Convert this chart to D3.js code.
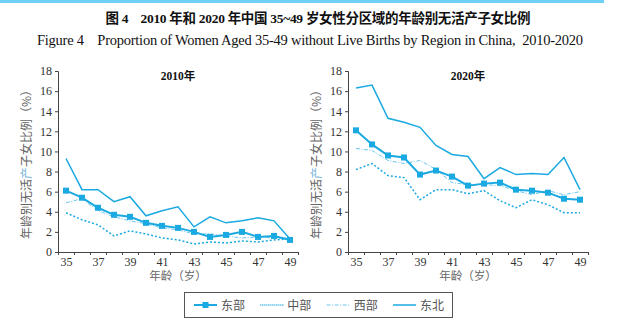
<!DOCTYPE html>
<html>
<head>
<meta charset="utf-8">
<script src="https://cdn.jsdelivr.net/npm/d3@7"></script>
<style>
  body { margin: 0; background: #fff; }
  svg { display: block; }
</style>
</head>
<body>
<svg id="viz" width="636" height="327"></svg>
<script>
// data (percent of women without live births)
var ages = [35, 36, 37, 38, 39, 40, 41, 42, 43, 44, 45, 46, 47, 48, 49];
var regions = ['东部', '中部', '西部', '东北'];
var yTicks = [0, 2, 4, 6, 8, 10, 12, 14, 16, 18];
var xLabels = [35, 37, 39, 41, 43, 45, 47, 49];

var east2010      = [6.1, 5.4, 4.4, 3.7, 3.5, 2.9, 2.6, 2.4, 2.0, 1.5, 1.7, 2.0, 1.5, 1.6, 1.2];
var central2010   = [3.9, 3.2, 2.7, 1.6, 2.1, 1.8, 1.4, 1.2, 0.8, 1.0, 0.9, 1.1, 1.0, 1.2, 1.3];
var west2010      = [4.9, 5.3, 4.1, 3.5, 3.1, 2.8, 2.4, 2.2, 1.8, 1.8, 1.6, 1.4, 1.5, 1.4, 1.4];
var northeast2010 = [9.3, 6.2, 6.2, 5.0, 5.5, 3.6, 4.1, 4.5, 2.5, 3.5, 2.9, 3.1, 3.4, 3.1, 1.3];

var east2020      = [12.1, 10.7, 9.6, 9.4, 7.7, 8.1, 7.5, 6.6, 6.8, 6.9, 6.2, 6.1, 5.9, 5.3, 5.2];
var central2020   = [8.2, 8.8, 7.6, 7.4, 5.2, 6.2, 6.2, 5.8, 6.1, 5.1, 4.4, 5.2, 4.7, 3.9, 3.9];
var west2020      = [10.3, 10.1, 9.1, 8.8, 9.1, 8.2, 6.9, 6.7, 6.7, 6.6, 6.1, 5.7, 6.1, 5.7, 6.0];
var northeast2020 = [16.3, 16.6, 13.3, 12.9, 12.4, 10.6, 9.7, 9.5, 7.3, 8.4, 7.7, 7.8, 7.7, 9.4, 6.2];

var blue = '#1ba9e1';
var lightBlue = '#6cc8ef';
var axisColor = '#444';
var textColor = '#333';
var serif = '"Liberation Serif", "Times New Roman", serif';
var cjk = '"Noto Sans CJK SC", sans-serif';
var sp = '\u00a0';

// line styles per region
var styles = {
  '东部': { color: blue, width: 2, dash: null, marker: true },
  '中部': { color: blue, width: 1.5, dash: '2,2', marker: false },
  '西部': { color: lightBlue, width: 1, dash: '4,1.5,1,1.5', marker: false },
  '东北': { color: blue, width: 1.5, dash: null, marker: false }
};

var svg = d3.select('#viz');

// top strip
svg.append('rect')
  .attr('x', 0).attr('y', 0)
  .attr('width', 604).attr('height', 3)
  .style('fill', '#6fd0f5');

// titles
svg.append('text')
  .attr('x', 318).attr('y', 23)
  .attr('text-anchor', 'middle')
  .attr('textLength', 425)
  .style('font-family', serif + ',' + cjk)
  .style('font-weight', 'bold')
  .style('font-size', '13.5px')
  .style('fill', '#111')
  .text('图' + sp + '4' + sp + sp + sp + sp + '2010' + sp + '年和' + sp + '2020' + sp + '年中国' + sp + '35~49' + sp + '岁女性分区域的年龄别无活产子女比例');

svg.append('text')
  .attr('x', 310).attr('y', 45)
  .attr('text-anchor', 'middle')
  .attr('textLength', 546)
  .style('font-family', serif)
  .style('font-size', '14.5px')
  .style('fill', '#111')
  .text('Figure 4' + sp + sp + sp + sp + 'Proportion of Women Aged 35-49 without Live Births by Region in China,' + sp + sp + '2010-2020');

function drawPanel(left, title, seriesList) {
  var top = 71, bottom = 252, width = 240;
  var x = d3.scaleLinear().domain([34.5, 49.5]).range([left, left + width]);
  var y = d3.scaleLinear().domain([0, 18]).range([bottom, top]);

  var g = svg.append('g');

  // y axis
  var yAxis = g.append('g')
    .attr('transform', 'translate(' + left + ',0)')
    .call(d3.axisLeft(y).tickValues(yTicks).tickSize(3).tickPadding(3));
  // x axis: ticks between categories, labels on odd ages
  var xAxis = g.append('g')
    .attr('transform', 'translate(0,' + bottom + ')')
    .call(d3.axisBottom(x).tickValues(d3.range(34.5, 50, 1)).tickSize(3).tickFormat(''));
  var xLab = g.append('g')
    .attr('transform', 'translate(0,' + bottom + ')')
    .call(d3.axisBottom(x).tickValues(xLabels).tickSize(0).tickPadding(5));
  xLab.select('.domain').remove();

  [yAxis, xAxis, xLab].forEach(function(a) {
    a.selectAll('.domain, line').style('stroke', axisColor).style('stroke-width', 1);
    a.selectAll('text')
      .style('font-family', serif)
      .style('font-size', '12px')
      .style('fill', textColor);
  });

  // panel title
  g.append('text')
    .attr('x', left + 120).attr('y', 80)
    .attr('text-anchor', 'middle')
    .style('font-family', serif + ',' + cjk)
    .style('font-weight', 'bold')
    .style('font-size', '11.5px')
    .style('fill', '#111')
    .text(title);

  // axis titles
  g.append('text')
    .attr('x', left + 120).attr('y', 280)
    .attr('text-anchor', 'middle')
    .style('font-family', cjk)
    .style('font-size', '11.5px')
    .style('fill', '#666')
    .text('年龄（岁）');

  var yt = g.append('text')
    .attr('transform', 'translate(' + (left - 27) + ',' + ((top + bottom) / 2) + ') rotate(-90)')
    .attr('text-anchor', 'middle')
    .style('font-family', cjk)
    .style('font-size', '12px')
    .style('fill', '#666');
  yt.append('tspan').text('年龄别无活');
  yt.append('tspan').style('fill', '#7fb9db').text('产');
  yt.append('tspan').text('子女比例（%）');

  var line = d3.line()
    .x(function(d, i) { return x(ages[i]); })
    .y(function(d) { return y(d); });

  // draw back-to-front: west, central, northeast, east
  [2, 1, 3, 0].forEach(function(k) {
    var st = styles[regions[k]];
    g.append('path')
      .datum(seriesList[k])
      .attr('d', line)
      .style('fill', 'none')
      .style('stroke', st.color)
      .style('stroke-width', st.width)
      .style('stroke-dasharray', st.dash);
    if (st.marker) {
      g.selectAll('rect.m' + k)
        .data(seriesList[k])
        .enter()
        .append('rect')
        .attr('class', 'm' + k)
        .attr('x', function(d, i) { return x(ages[i]) - 3; })
        .attr('y', function(d) { return y(d) - 3; })
        .attr('width', 6).attr('height', 6)
        .style('fill', st.color);
    }
  });
}

drawPanel(58, '2010年', [east2010, central2010, west2010, northeast2010]);
drawPanel(348, '2020年', [east2020, central2020, west2020, northeast2020]);

// legend
var legend = svg.append('g');
legend.append('rect')
  .attr('x', 184.5).attr('y', 292.5)
  .attr('width', 268).attr('height', 25)
  .style('fill', 'none')
  .style('stroke', '#555')
  .style('stroke-width', 1);

var legendX = d3.scalePoint().domain(regions).range([194, 393]);
regions.forEach(function(r) {
  var st = styles[r];
  var lx = legendX(r);
  legend.append('line')
    .attr('x1', lx).attr('x2', lx + 23)
    .attr('y1', 305).attr('y2', 305)
    .style('stroke', st.color)
    .style('stroke-width', st.width)
    .style('stroke-dasharray', r === '中部' ? '1,1' : st.dash);
  if (st.marker) {
    legend.append('rect')
      .attr('x', lx + 8.5).attr('y', 302)
      .attr('width', 6).attr('height', 6)
      .style('fill', st.color);
  }
  legend.append('text')
    .attr('x', lx + 27).attr('y', 309.5)
    .style('font-family', cjk)
    .style('font-size', '12px')
    .style('fill', '#555')
    .text(r);
});
</script>
</body>
</html>
